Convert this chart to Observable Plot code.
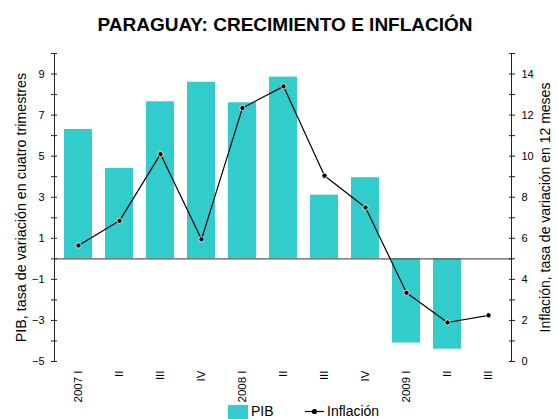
<!DOCTYPE html>
<html>
<head>
<meta charset="utf-8">
<script src="https://cdn.jsdelivr.net/npm/d3@7"></script>
<script src="https://cdn.jsdelivr.net/npm/@observablehq/plot@0.6"></script>
<style>
  body { margin: 0; width: 558px; height: 419px; position: relative; overflow: hidden; background: #fff;
         font-family: "Liberation Sans", Arial, sans-serif; color: #000; }
  #title { position: absolute; left: 0; top: 0; width: 570px; text-align: center; font-weight: bold;
           font-size: 19px; line-height: 22px; padding-top: 14px; }
  #chart { position: absolute; left: 0; top: 40px; }
  #legend { position: absolute; top: 403px; left: 228px; height: 16px; font-size: 14px; line-height: 16px; white-space: nowrap; }
  .sw { position: absolute; top: 2px; width: 20px; height: 14px; }
  .lbl { position: absolute; top: 0; }
</style>
</head>
<body>
<div id="title">PARAGUAY: CRECIMIENTO E INFLACIÓN</div>
<div id="chart"></div>
<div id="legend"></div>
<script>
// ---- data ----
const periodos = ["2007 I", "2007 II", "2007 III", "2007 IV", "2008 I", "2008 II", "2008 III", "2008 IV", "2009 I", "2009 II", "2009 III"];
const etiquetas = ["2007 I", "II", "III", "IV", "2008 I", "II", "III", "IV", "2009 I", "II", "III"];
const pib = [6.3, 4.4, 7.65, 8.6, 7.6, 8.85, 3.1, 3.95, -4.1, -4.4, null];
const inflacion = [5.65, 6.85, 10.1, 5.95, 12.35, 13.4, 9.05, 7.5, 3.35, 1.9, 2.25];

const ticksPIB = [-5, -3, -1, 1, 3, 5, 7, 9];
const ticksInflacion = [0, 2, 4, 6, 8, 10, 12, 14];
const dominioPIB = [-5, 10];
const dominioInflacion = [0, 15];
const menoresPIB = d3.range(dominioPIB[0], dominioPIB[1] + 1);

const tituloPIB = "PIB, tasa de variación en cuatro trimestres";
const tituloInflacion = "Inflación, tasa de variación en 12 meses";
const nombresSeries = ["PIB", "Inflación"];

// right axis maps onto left scale with a constant offset (same unit size)
const offset = dominioInflacion[0] - dominioPIB[0];

const datos = periodos.map((p, i) => ({periodo: p, pib: pib[i], inflacion: inflacion[i]}));

const turquesa = "#33cccc";
const ejeColor = "#222";

const chart = Plot.plot({
  width: 558,
  height: 365,
  marginTop: 13,
  marginBottom: 44,
  marginLeft: 54,
  marginRight: 47,
  style: {fontFamily: "'Liberation Sans', Arial, sans-serif", fontSize: "11px", color: "#000", background: "white"},
  x: {domain: periodos, paddingInner: 0.32, paddingOuter: 0.16, axis: null, label: null},
  y: {domain: dominioPIB, axis: null, label: null},
  marks: [
    Plot.barY(datos.filter(d => d.pib != null), {x: "periodo", y: "pib", fill: turquesa}),
    Plot.ruleY([0], {stroke: "#5a5a5a", strokeWidth: 1.3}),
    Plot.line(datos, {x: "periodo", y: d => d.inflacion - offset, stroke: "black", strokeWidth: 1.2}),
    Plot.dot(datos, {x: "periodo", y: d => d.inflacion - offset, r: 2.6, fill: "black", stroke: "white", strokeWidth: 0.8}),
    Plot.frame({anchor: "left", stroke: ejeColor}),
    Plot.frame({anchor: "right", stroke: ejeColor}),
    // left axis: crossing ticks + labels
    Plot.axisY(menoresPIB, {anchor: "left", tickSize: 6, dx: 3, fill: "none", stroke: ejeColor, label: null}),
    Plot.axisY(ticksPIB, {anchor: "left", tickSize: 0, tickPadding: 10, label: null}),
    // right axis
    Plot.axisY(menoresPIB, {anchor: "right", tickSize: 6, dx: -3, fill: "none", stroke: ejeColor, label: null}),
    Plot.axisY(ticksInflacion.map(v => v - offset), {anchor: "right", tickSize: 0, tickPadding: 10, tickFormat: d => d + offset, label: null}),
    // x axis labels
    Plot.axisX(periodos, {anchor: "bottom", tickSize: 0, tickPadding: 9, tickRotate: -90,
      tickFormat: d => etiquetas[periodos.indexOf(d)], fontSize: 11.5, label: null}),
    // axis titles
    Plot.text([tituloPIB], {frameAnchor: "left", textAnchor: "middle", rotate: -90, dx: -39, lineAnchor: "top", fontSize: 14.3}),
    Plot.text([tituloInflacion], {frameAnchor: "right", textAnchor: "middle", rotate: -90, dx: 38, lineAnchor: "bottom", fontSize: 14})
  ]
});
document.getElementById("chart").appendChild(chart);

// legend
const legend = document.getElementById("legend");
legend.innerHTML =
  `<div class="sw" style="left:0;background:${turquesa}"></div>` +
  `<div class="lbl" style="left:23px">${nombresSeries[0]}</div>` +
  `<svg style="position:absolute;left:77px;top:1px" width="19" height="14"><line x1="0" x2="19" y1="7.5" y2="7.5" stroke="black" stroke-width="1.2"/><circle cx="9.5" cy="7.5" r="2.6" fill="black"/></svg>` +
  `<div class="lbl" style="left:99px">${nombresSeries[1]}</div>`;
</script>
</body>
</html>
